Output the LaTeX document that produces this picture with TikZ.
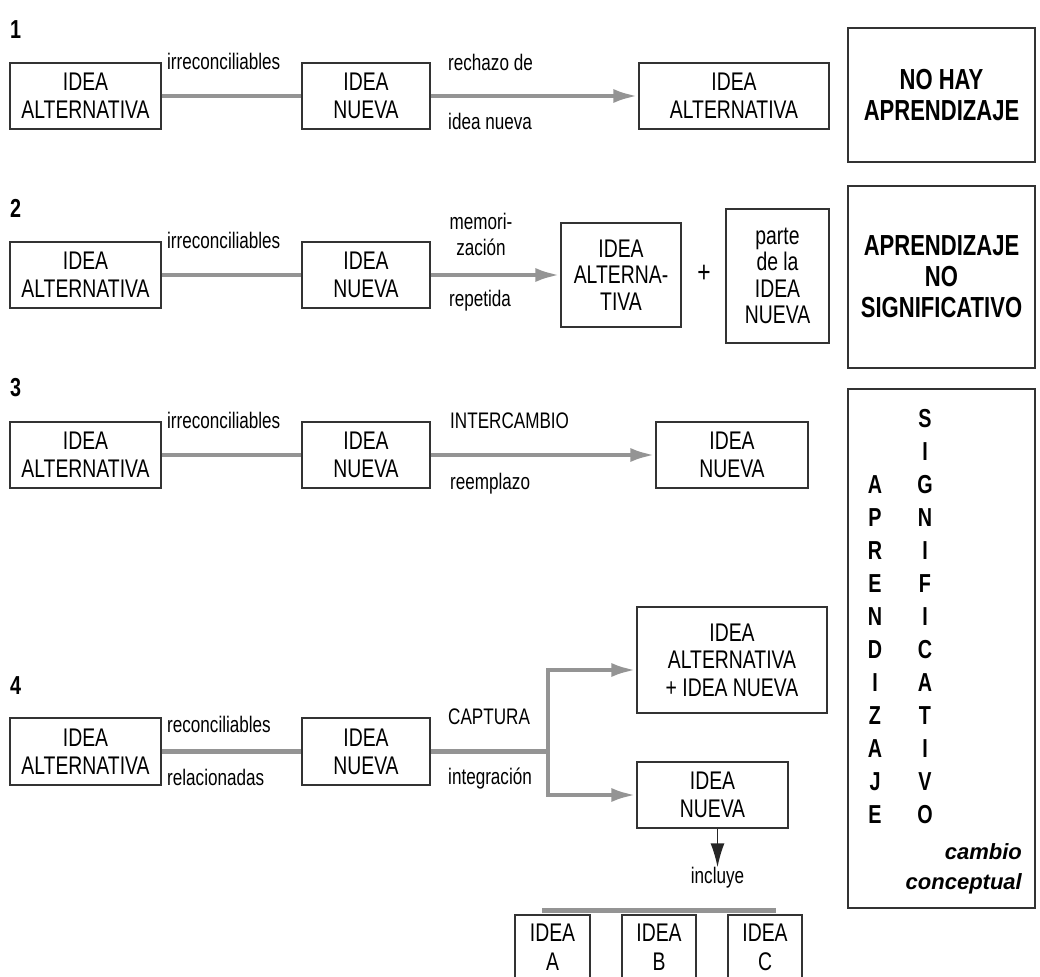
\documentclass[tikz,border=0pt]{standalone}
\usepackage{fontspec}
\setmainfont{Liberation Sans}[FakeStretch=0.76]
\newfontfamily\slantfont{Liberation Sans}
\usetikzlibrary{arrows.meta}
\usetikzlibrary{calc}

\begin{document}
\begin{tikzpicture}[x=1pt,y=-1pt,
  idea/.style={draw=black!80, line width=1.3pt, align=center, inner sep=0pt, font=\fontsize{25.5}{28}\selectfont},
  altbox/.style={minimum width=151, minimum height=66},
  newbox/.style={minimum width=128, minimum height=66},
  result/.style={draw=black!80, line width=1.3pt, align=center, inner sep=0pt, font=\fontsize{29}{31}\selectfont\bfseries},
  lbl/.style={inner sep=1pt, text height=15pt, text depth=0pt, font=\fontsize{22.5}{26}\selectfont},
  num/.style={anchor=west, inner sep=0pt, font=\fontsize{26}{26}\selectfont\bfseries},
  column/.style={align=center, inner sep=0pt, font=\fontsize{26}{33}\selectfont\bfseries},
  gbar/.style={draw=black!42, line width=4.5pt},
  garrow/.style={gbar, -{Latex[length=25pt,width=14pt]}},
  karrow/.style={draw=black!85, line width=1.5pt, -{Latex[length=24pt,width=14pt]}}]

\useasboundingbox (0,0) rectangle (1040,976);
\clip (0,0) rectangle (1040,976);

\node[num] (n1) at (10,30) {1};
\node[idea, altbox] (alt1) at (85.5,96) {IDEA\\ALTERNATIVA};
\node[idea, newbox] (new1) at (366,96) {IDEA\\NUEVA};
\node[idea, minimum width=190, minimum height=66] (res1) at (734,96) {IDEA\\ALTERNATIVA};
\node[result, minimum width=187, minimum height=134] (out1) at (941.5,95) {NO HAY\\APRENDIZAJE};
\draw[gbar] (alt1) -- (new1);
\draw[garrow] (new1) -- (res1);
\node[lbl, anchor=west] (irr1) at (166,62) {irreconciliables};
\node[lbl, anchor=west] (rech) at (447,63) {rechazo de};
\node[lbl, anchor=west] (rech2) at (447,122) {idea nueva};

\node[num] (n2) at (10,208) {2};
\node[idea, altbox] (alt2) at (85.5,275) {IDEA\\ALTERNATIVA};
\node[idea, newbox] (new2) at (366,275) {IDEA\\NUEVA};
\node[idea, minimum width=120, minimum height=104, font=\fontsize{25.5}{26.5}\selectfont] (res2) at (621,275) {IDEA\\ALTERNA-\\TIVA};
\node[font=\fontsize{30}{30}\selectfont] (plus) at (704,274) {+};
\node[idea, minimum width=103, minimum height=134, font=\fontsize{25.5}{26.5}\selectfont] (part2) at (777.5,276) {parte\\de la\\IDEA\\NUEVA};
\node[result, minimum width=187, minimum height=182] (out2) at (941.5,277) {APRENDIZAJE\\NO\\SIGNIFICATIVO};
\draw[gbar] (alt2) -- (new2);
\draw[garrow] (new2) -- (res2);
\node[lbl, anchor=west] (irr2) at (166,241) {irreconciliables};
\node[align=center, inner sep=0pt, font=\fontsize{22.5}{26}\selectfont] (memo) at (481,234) {memori-\\zación};
\node[lbl] (rep) at (480,299) {repetida};

\node[num] (n3) at (10,388) {3};
\node[idea, altbox] (alt3) at (85.5,455) {IDEA\\ALTERNATIVA};
\node[idea, newbox] (new3) at (366,455) {IDEA\\NUEVA};
\node[idea, minimum width=152, minimum height=66] (res3) at (732,455) {IDEA\\NUEVA};
\draw[gbar] (alt3) -- (new3);
\draw[garrow] (new3) -- (res3);
\node[lbl, anchor=west] (irr3) at (166,421) {irreconciliables};
\node[lbl, anchor=west] (inter) at (449,421) {INTERCAMBIO};
\node[lbl, anchor=west] (reem) at (449,482) {reemplazo};

\node[draw=black!80, line width=1.3pt, minimum width=187, minimum height=519] (out3) at (941.5,648.5) {};
\node[column] (apr) at (875,650) {A\\P\\R\\E\\N\\D\\I\\Z\\A\\J\\E};
\node[column] (sig) at (925,617) {S\\I\\G\\N\\I\\F\\I\\C\\A\\T\\I\\V\\O};
\node[align=right, anchor=east, inner sep=0pt, font=\slantfont\fontsize{22}{30}\selectfont\bfseries\itshape] (camb) at (1022,869) {cambio\\conceptual};

\node[num] (n4) at (10,686) {4};
\node[idea, altbox, minimum height=67] (alt4) at (85.5,751.5) {IDEA\\ALTERNATIVA};
\node[idea, newbox, minimum height=67] (new4) at (366,751.5) {IDEA\\NUEVA};
\node[idea, minimum width=190, minimum height=106, font=\fontsize{25.5}{27.5}\selectfont] (res4a) at (732,660) {IDEA\\ALTERNATIVA\\+ IDEA NUEVA};
\node[idea, minimum width=151, minimum height=66] (res4b) at (712.5,795) {IDEA\\NUEVA};
\coordinate (fork) at (548,751.5);
\draw[gbar] (alt4) -- (new4);
\draw[gbar] (new4) -- (fork);
\draw[garrow] (fork) |- ($(res4a.west)+(0,10)$);
\draw[garrow] (fork) |- (res4b.west);
\node[lbl, anchor=west] (recon) at (166,725) {reconciliables};
\node[lbl, anchor=west] (rel) at (166,778) {relacionadas};
\node[lbl, anchor=west] (capt) at (447,717) {CAPTURA};
\node[lbl, anchor=west] (integ) at (447,777) {integración};

\node[lbl] (incl) at (717.5,876) {incluye};
\draw[karrow] ([xshift=5pt]res4b.south) -- (incl.north);

\node[idea, minimum width=75, minimum height=65, font=\fontsize{25.5}{29}\selectfont] (ideaA) at (552.5,947.5) {IDEA\\A};
\node[idea, minimum width=74, minimum height=65, font=\fontsize{25.5}{29}\selectfont] (ideaB) at (659,947.5) {IDEA\\B};
\node[idea, minimum width=74, minimum height=65, font=\fontsize{25.5}{29}\selectfont] (ideaC) at (765,947.5) {IDEA\\C};
\draw[gbar] ($(ideaA.north west)+(28,-4)$) -- ($(ideaC.north east)+(-27,-4)$);

\end{tikzpicture}
\end{document}
